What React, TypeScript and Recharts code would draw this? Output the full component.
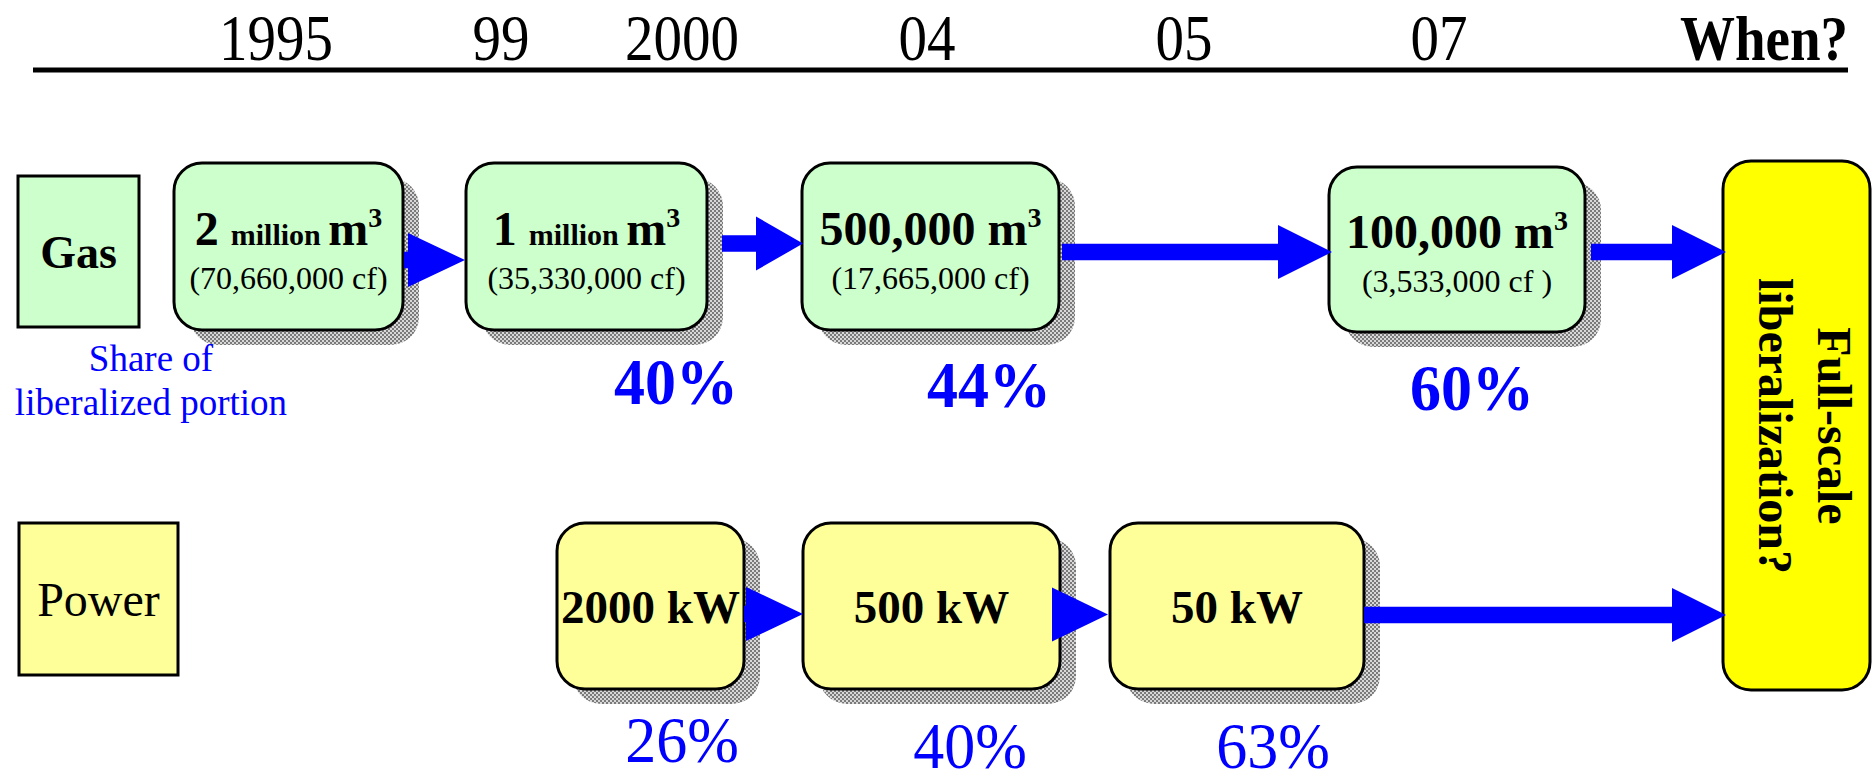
import { ComposedChart, XAxis, YAxis, ReferenceArea, Scatter } from 'recharts';

const FONT = '"Liberation Serif", "Times New Roman", serif';
const BLUE = '#0000FF';

// timeline along the top axis (x unit = 1/10 of the picture width in px)
const timelineTicks = [27.6, 50.1, 68.2, 92.7, 118.4, 143.9, 176.4];
const timelineLabels = ['1995', '99', '2000', '04', '05', '07', 'When?'];

// gas thresholds
const gasAmounts = ['2', '1', '500,000', '100,000'];
const gasUnits = ['million', 'million', '', ''];
const gasCubicFeet = ['(70,660,000 cf)', '(35,330,000 cf)', '(17,665,000 cf)', '(3,533,000 cf )'];
const gasSpans = [[17.4, 40.3], [46.6, 70.7], [80.2, 105.9], [132.9, 158.5]];
const gasRows = [[16.3, 33.0], [16.3, 33.0], [16.3, 33.0], [16.7, 33.2]];
const gasShares = ['40%', '44%', '60%'];
const gasShareAt = [67.6, 98.9, 147.2];
const gasShareLevel = [40.4, 40.7, 41.0];

// power thresholds
const powerLimits = ['2000 kW', '500 kW', '50 kW'];
const powerSpans = [[55.7, 74.4], [80.3, 106.0], [111.0, 136.4]];
const powerRow = [52.3, 68.9];
const powerShares = ['26%', '40%', '63%'];
const powerShareAt = [68.2, 97.0, 127.3];
const powerShareLevel = [76.2, 76.8, 76.8];

// arrows: [start, head start, tip, level]
const gasArrows = [[40.4, 40.8, 46.5, 26.0], [72.2, 75.6, 80.3, 24.35], [106.2, 127.8, 133.2, 25.2], [159.1, 167.2, 172.6, 25.2]];
const powerArrows = [[74.4, 74.6, 80.3, 61.4], [105.2, 105.2, 110.8, 61.45], [136.4, 167.2, 172.6, 61.5]];

const gasShareData = gasShares.map((t, i) => ({ x: gasShareAt[i], y: gasShareLevel[i], t }));
const powerShareData = powerShares.map((t, i) => ({ x: powerShareAt[i], y: powerShareLevel[i], t }));
const noteData = [{ x: 15.1, y: 37.1, t: 'Share of', t2: 'liberalized portion' }];

const HEAD_H = 5.4;
const SHAFT_H = 1.65;

const Shadow = ({ x, y, width, height }: any) => (
  <rect x={x + 16} y={y + 15} width={width} height={height} rx={28} fill="url(#dither)" />
);

const GasBox = ({ x, y, width, height, i }: any) => (
  <g>
    <Shadow x={x} y={y} width={width} height={height} />
    <rect x={x} y={y} width={width} height={height} rx={28} fill="#CCFFCC" stroke="#000" strokeWidth={3} />
    <text x={x + width / 2} y={y + height * 0.49} textAnchor="middle" fontFamily={FONT} fontWeight="bold" fill="#000">
      {gasUnits[i] ? (
        <>
          <tspan fontSize={48}>{gasAmounts[i]} </tspan>
          <tspan fontSize={30}>{gasUnits[i]} </tspan>
          <tspan fontSize={48}>m</tspan>
        </>
      ) : (
        <tspan fontSize={48}>{gasAmounts[i]} m</tspan>
      )}
      <tspan fontSize={28} dy={-18}>3</tspan>
    </text>
    <text x={x + width / 2} y={y + height * 0.755} textAnchor="middle" fontFamily={FONT} fontSize={32} fill="#000">
      {gasCubicFeet[i]}
    </text>
  </g>
);

const PowerBox = ({ x, y, width, height, i }: any) => (
  <g>
    <Shadow x={x} y={y} width={width} height={height} />
    <rect x={x} y={y} width={width} height={height} rx={28} fill="#FFFF99" stroke="#000" strokeWidth={3} />
    <text x={x + width / 2} y={y + height * 0.6} textAnchor="middle" fontFamily={FONT} fontWeight="bold" fontSize={47} fill="#000">
      {powerLimits[i]}
    </text>
  </g>
);

const LabelBox = ({ x, y, width, height, label, fill, bold }: any) => (
  <g>
    <rect x={x} y={y} width={width} height={height} fill={fill} stroke="#000" strokeWidth={3} />
    <text x={x + width / 2} y={y + height * 0.61} textAnchor="middle" fontFamily={FONT} fontSize={bold ? 46 : 48} fontWeight={bold ? 'bold' : 'normal'} fill="#000">
      {label}
    </text>
  </g>
);

const FullBox = ({ x, y, width, height }: any) => (
  <g>
    <rect x={x} y={y} width={width} height={height} rx={28} fill="#FFFF00" stroke="#000" strokeWidth={3} />
    <text transform={`translate(${x + width * 0.646},${y + 265}) rotate(90)`} textAnchor="middle" fontFamily={FONT} fontWeight="bold" fontSize={48} fill="#000">
      Full-scale
    </text>
    <text transform={`translate(${x + width * 0.245},${y + 265}) rotate(90)`} textAnchor="middle" fontFamily={FONT} fontWeight="bold" fontSize={48} fill="#000">
      liberalization?
    </text>
  </g>
);

const Arrow = ({ x, y, width, height, a }: any) => {
  const [from, head, to] = a;
  const hx = x + (width * (head - from)) / (to - from);
  const cy = y + height / 2;
  const s = (height * SHAFT_H) / HEAD_H / 2;
  const pts = [
    [x, cy - s], [hx, cy - s], [hx, y], [x + width, cy], [hx, y + height], [hx, cy + s], [x, cy + s],
  ].map((p) => p.join(',')).join(' ');
  return <polygon points={pts} fill={BLUE} />;
};

const YearTick = ({ x, y, payload }: any) => {
  const idx = timelineTicks.indexOf(payload.value);
  const last = idx === timelineLabels.length - 1;
  return (
    <g transform={`translate(${x},${y - 10}) scale(1,1.16)`}>
      <text textAnchor="middle" fontFamily={FONT} fontSize={last ? 55 : 57} fontWeight={last ? 'bold' : 'normal'} fill="#000">
        {timelineLabels[idx]}
      </text>
    </g>
  );
};

const ShareText = (bold: boolean) => (p: any) => (
  <g transform={`translate(${p.cx},${p.cy}) scale(1,1.05)`}>
    <text textAnchor="middle" fontFamily={FONT} fontSize={62} fontWeight={bold ? 'bold' : 'normal'} fill={BLUE}>
      {p.payload.t}
    </text>
  </g>
);

const NoteText = (p: any) => (
  <text x={p.cx} y={p.cy} textAnchor="middle" fontFamily={FONT} fontSize={37} fill={BLUE}>
    <tspan x={p.cx}>{p.payload.t}</tspan>
    <tspan x={p.cx} dy={44}>{p.payload.t2}</tspan>
  </text>
);

const App = () => (
  <div style={{ position: 'fixed', left: 0, top: 0, width: 1874, height: 772, background: '#fff' }}>
    <ComposedChart width={1874} height={772} margin={{ top: 0, right: 26, bottom: 0, left: 33 }}>
      <defs>
        <pattern id="dither" width="4" height="4" patternUnits="userSpaceOnUse">
          <rect width="4" height="4" fill="#d8d8d8" />
          <rect width="2" height="2" fill="#7a7a7a" />
          <rect x="2" y="2" width="2" height="2" fill="#7a7a7a" />
        </pattern>
      </defs>
      <XAxis
        orientation="top"
        type="number"
        dataKey="x"
        domain={[3.3, 184.8]}
        ticks={timelineTicks}
        interval={0}
        height={70}
        tickLine={false}
        tickSize={0}
        tickMargin={0}
        axisLine={{ stroke: '#000', strokeWidth: 5 }}
        tick={<YearTick />}
      />
      <YAxis type="number" dataKey="y" domain={[7.0, 77.2]} reversed hide />

      <ReferenceArea x1={1.8} x2={13.9} y1={17.6} y2={32.7} ifOverflow="visible"
        shape={(p: any) => <LabelBox {...p} label="Gas" fill="#CCFFCC" bold />} />
      <ReferenceArea x1={1.9} x2={17.8} y1={52.3} y2={67.5} ifOverflow="visible"
        shape={(p: any) => <LabelBox {...p} label="Power" fill="#FFFF99" />} />

      {gasSpans.map((s, i) => (
        <ReferenceArea key={`g${i}`} x1={s[0]} x2={s[1]} y1={gasRows[i][0]} y2={gasRows[i][1]} ifOverflow="visible"
          shape={(p: any) => <GasBox {...p} i={i} />} />
      ))}
      {powerSpans.map((s, i) => (
        <ReferenceArea key={`p${i}`} x1={s[0]} x2={s[1]} y1={powerRow[0]} y2={powerRow[1]} ifOverflow="visible"
          shape={(p: any) => <PowerBox {...p} i={i} />} />
      ))}
      <ReferenceArea x1={172.3} x2={187.0} y1={16.1} y2={69.0} ifOverflow="visible" shape={(p: any) => <FullBox {...p} />} />

      {[...gasArrows, ...powerArrows].map((a, i) => (
        <ReferenceArea key={`a${i}`} x1={a[0]} x2={a[2]} y1={a[3] - HEAD_H / 2} y2={a[3] + HEAD_H / 2} ifOverflow="visible"
          shape={(p: any) => <Arrow {...p} a={a} />} />
      ))}

      <Scatter data={gasShareData} shape={ShareText(true)} isAnimationActive={false} />
      <Scatter data={powerShareData} shape={ShareText(false)} isAnimationActive={false} />
      <Scatter data={noteData} shape={NoteText} isAnimationActive={false} />
    </ComposedChart>
  </div>
);

export default App;
